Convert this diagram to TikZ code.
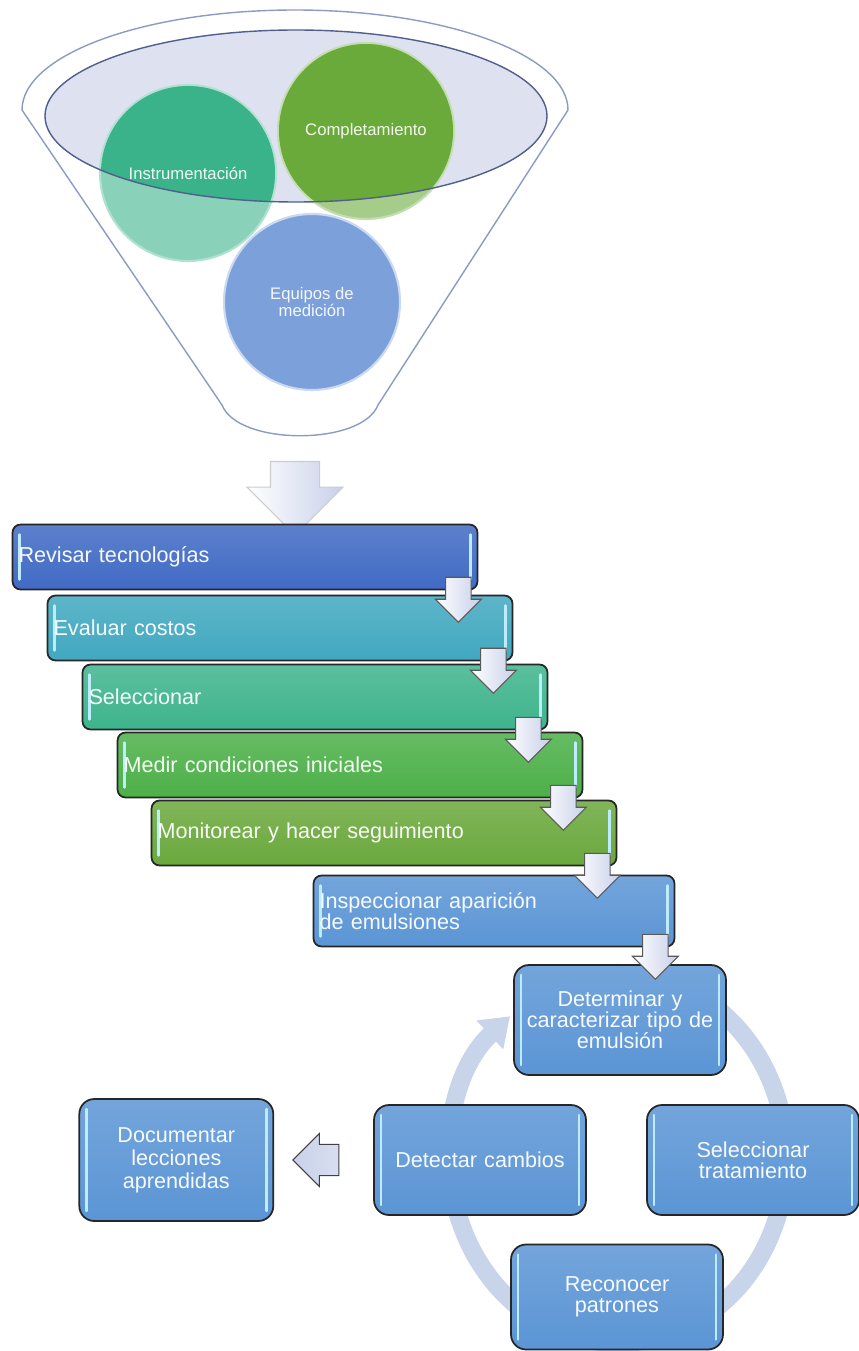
\documentclass[tikz,border=0pt]{standalone}
\usepackage{fontspec}
\setmainfont{Liberation Sans}
\usetikzlibrary{positioning,shapes.arrows,arrows.meta,calc}
\usepackage{xcolor}

\definecolor{stepA}{RGB}{64,106,196}
\definecolor{stepB}{RGB}{65,168,192}
\definecolor{stepC}{RGB}{62,180,140}
\definecolor{stepD}{RGB}{76,176,72}
\definecolor{stepE}{RGB}{106,168,60}
\definecolor{boxblue}{RGB}{91,149,213}
\definecolor{insC}{RGB}{59,179,138}
\definecolor{comC}{RGB}{106,170,58}
\definecolor{equC}{RGB}{124,160,218}
\definecolor{lavender}{RGB}{222,226,240}
\definecolor{rimline}{RGB}{80,95,140}
\definecolor{funnelC}{RGB}{140,155,195}
\definecolor{ringC}{RGB}{200,212,234}
\definecolor{arrowC}{RGB}{200,209,234}
\definecolor{hiliteC}{RGB}{190,236,255}

\begin{document}
\begin{tikzpicture}[%
        x=0.02cm, y=-0.02cm,
        hilite/.style={draw=hiliteC, line width=1.4pt, line cap=round},
        box/.style={rectangle, rounded corners=0.16cm, draw=black!85, line width=1pt,
          top color=#1!85!white, bottom color=#1, text=white!95!#1,
          inner xsep=0.12cm, inner ysep=0.1cm,
          path picture={
            \draw[hilite] ([shift={(0.14cm,-0.2cm)}]path picture bounding box.north west)
              -- ([shift={(0.14cm,0.2cm)}]path picture bounding box.south west);
            \draw[hilite] ([shift={(-0.14cm,-0.2cm)}]path picture bounding box.north east)
              -- ([shift={(-0.14cm,0.2cm)}]path picture bounding box.south east);}},
        stepbox/.style={box=#1, text width=9.06cm, minimum height=1.3cm, align=left,
          font=\fontsize{12.3}{12}\selectfont},
        cycbox/.style={box=boxblue, rounded corners=0.3cm, text width=4cm, minimum height=2.2cm,
          align=center, font=\fontsize{12.3}{12}\selectfont},
        bubble/.style={circle, minimum size=3.52cm, inner sep=0pt, fill=#1!60!white, draw=#1!40!white, line width=1.2pt},
        bubtext/.style={align=center, text=white!92!#1, font=\fontsize{9.5}{10}\selectfont},
        dnarrow/.style={single arrow, shape border rotate=270, draw=black!65, line width=0.6pt,
          left color=white, right color=arrowC, inner sep=0.24cm, minimum height=0.9cm,
          minimum width=0.92cm, single arrow head extend=0.2cm},
        ring/.style={draw=ringC, line width=0.36cm}
      ]
      \useasboundingbox (0,0) rectangle (858,1351);

      % embudo
      \draw[funnelC, line width=0.8pt, fill=white] (22,110)
        arc[start angle=180, end angle=360, x radius=273, y radius=100]
        -- (378,405) .. controls (362,446) and (238,446) .. (222,405) -- cycle;
      \fill[lavender] (296,116) ellipse[x radius=251, y radius=86];

      % burbujas
      \node [] (ins) [bubble=insC] at (188,173) {};
      \node [] (com) [bubble=comC] at (366,131) {};
      \begin{scope}
        \clip (296,116) ellipse[x radius=251, y radius=86];
        \fill[insC] (ins.center) circle[radius=87];
        \fill[comC] (com.center) circle[radius=87];
      \end{scope}
      \draw[rimline, line width=0.8pt] (296,116) ellipse[x radius=251, y radius=86];
      \node [] (equ) [bubble=equC, fill=equC] at (312,302) {};
      \node [] (insT) [bubtext=insC] at (ins) {Instrumentación};
      \node [] (comT) [bubtext=comC] at (com) {Completamiento};
      \node [] (equT) [bubtext=equC] at (equ) {Equipos de\\medición};

      \node [] (into) [dnarrow, draw=black!20, inner sep=0.48cm, minimum height=1.3cm,
        minimum width=1.9cm, single arrow head extend=0.47cm] at (295,486) {};

      % escalera
      \node [] (b1) [stepbox=stepA] at (245,557) {Revisar tecnologías};
      \node [] (b2) [stepbox=stepB] at (280,628) {Evaluar costos};
      \node [] (b3) [stepbox=stepC] at (315,697) {Seleccionar};
      \node [] (b4) [stepbox=stepD] at (350,765) {Medir condiciones iniciales};
      \node [] (b5) [stepbox=stepE] at (384,833) {Monitorear y hacer seguimiento};
      \node [] (b6) [stepbox=boxblue, text width=6.98cm, minimum height=1.42cm] at (494,911)
        {Inspeccionar aparición\\de emulsiones};

      % ciclo
      \draw[ring, -{Triangle[length=0.55cm, width=0.75cm]}] (618,1158) ++(-120:168 and 185)
        arc[start angle=-120, end angle=230, x radius=168, y radius=185];
      \node [] (det) [cycbox] at (620,1020) {Determinar y\\caracterizar tipo de\\emulsión};
      \node [] (sel) [cycbox] at (753,1160) {Seleccionar\\tratamiento};
      \node [] (rec) [cycbox, minimum height=2.1cm] at (617,1297) {Reconocer\\patrones};
      \node [] (dc) [cycbox] at (480,1160) {Detectar cambios};
      \node [] (doc) [cycbox, text width=3.64cm, minimum height=2.44cm,
        font=\fontsize{12.3}{13}\selectfont, left=1.98cm of dc] {Documentar\\lecciones\\aprendidas};

      \foreach \i in {1,...,6}
        \node [] (a\i) [dnarrow] at ($(b\i.south east)+(-20,3)$) {};
      \node [] (back) [dnarrow, shape border rotate=180, draw=black!75, right color=arrowC!70!white,
        left color=arrowC, inner sep=0.28cm, minimum height=0.92cm, minimum width=1.06cm]
        at ($(doc.east)!.5!(dc.west)$) {};
    \end{tikzpicture}
\end{document}
